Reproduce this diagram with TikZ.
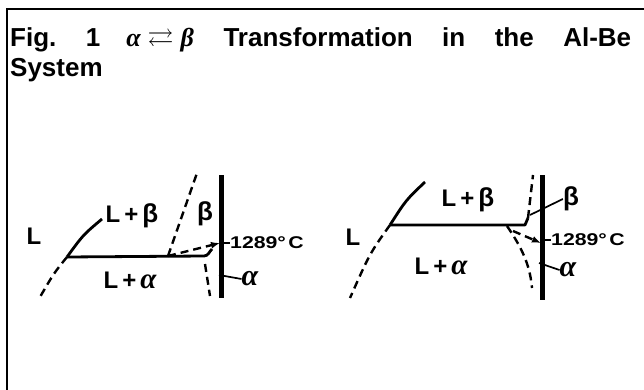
\documentclass[tikz,border=0pt]{standalone}
\usepackage{amsmath, amssymb}
\usepackage{graphicx}
\usepackage{fontspec}
\setmainfont{Liberation Sans}
\newfontfamily\grkserif{Liberation Serif}
\newcommand{\alf}{{\grkserif\bfseries\itshape α}}
\newcommand{\bet}{{\grkserif\bfseries\itshape β}}
\usetikzlibrary{arrows.meta}

\begin{document}
\begin{tikzpicture}[x=1pt, y=-1pt, >=Latex,
  phase/.style={line width=2.8pt},
  solvus/.style={line width=2.4pt, dash pattern=on 8pt off 5pt},
  pure/.style={line width=5pt},
  lbl/.style={font=\bfseries\fontsize{24}{26}\selectfont, inner sep=0pt},
  temp/.style={font=\bfseries\fontsize{17}{19}\selectfont, inner sep=0pt, anchor=west},
  grk/.style={font=\bfseries\fontsize{26}{28}\selectfont, inner sep=0pt},
  alfa/.style={font=\fontsize{30}{32}\selectfont, inner sep=0pt},
  lead/.style={line width=1.7pt}]
  \useasboundingbox (0,0) rectangle (644,390);

  % frame and title
  \coordinate (fTL) at (7,9);
  \coordinate (fTR) at (644,9);
  \coordinate (fBL) at (7,390);
  \draw[line width=2pt] (fBL) -- (fTL) -- (fTR);
  \node[anchor=base west, inner sep=0pt, font=\bfseries\fontsize{26}{30}\selectfont] (title1) at (10,47)
    {\makebox[621pt][s]{Fig.\ 1\quad\mbox{\alf\hspace{7pt}$\rightleftarrows$\hspace{7pt}\bet} Transformation in the Al-Be}};
  \node[anchor=base west, inner sep=0pt, font=\bfseries\fontsize{26}{30}\selectfont] (title2) at (10,77) {System};

  % left diagram: points
  \coordinate (lT) at (67,257);
  \coordinate (lLtop) at (102,219);
  \coordinate (lLbot) at (40,297);
  \coordinate (lE) at (168,256);
  \coordinate (lHend) at (204,256);
  \coordinate (lHup) at (212,249);
  \coordinate (lBtop) at (197,173);
  \coordinate (lArr) at (220,243);
  \coordinate (lAtop) at (205,264);
  \coordinate (lAbot) at (210,296);
  \coordinate (lVtop) at (221,175);
  \coordinate (lVbot) at (221,298);

  % left diagram: boundaries
  \draw[pure] (lVtop) -- (lVbot);
  \draw[phase] (lT) .. controls (83,235) .. (lLtop);
  \draw[solvus] (lT) .. controls (54,273) .. (lLbot);
  \draw[phase, line join=round] (lT) -- (lHend) to[out=0, in=225] (lHup);
  \draw[solvus] (lE) -- (lBtop);
  \draw[solvus, -{Latex[length=9pt, width=7pt]}] (lE) -- (lArr);
  \draw[solvus] (lAtop) -- (lAbot);

  % left diagram: labels
  \node[lbl] (lL) at (34,236) {L};
  \node[lbl] (lLB) at (132,216) {L\,+\,\fontsize{26}{28}\selectfont β};
  \node[grk] (lB) at (205,214) {β};
  \node[lbl] (lLA) at (130,280) {L\,+\,\fontsize{29}{30}\selectfont\alf};
  \node[temp] (lTemp) at (230,243) {\scalebox{1.25}[1]{1289°\hspace{2pt}C}};
  \coordinate (lTick) at (221,243);
  \draw[lead] (lTick) -- (lTemp.west);
  \node[alfa] (lA) at (250,279) {\alf};
  \coordinate (lAlead) at (219,275);
  \draw[lead] (lAlead) -- (lA.west);

  % right diagram: points
  \coordinate (rT) at (390,225);
  \coordinate (rLtop) at (425,182);
  \coordinate (rLbot) at (350,298);
  \coordinate (rHend) at (525,225);
  \coordinate (rBbot) at (528,218);
  \coordinate (rBtop) at (533,175);
  \coordinate (rAtop) at (507,226);
  \coordinate (rAbot) at (532,288);
  \coordinate (rA0) at (513,231);
  \coordinate (rArr) at (541,243);
  \coordinate (rVtop) at (542,175);
  \coordinate (rVbot) at (542,300);

  % right diagram: boundaries
  \draw[pure] (rVtop) -- (rVbot);
  \draw[phase] (rT) .. controls (406,200) .. (rLtop);
  \draw[solvus] (rT) .. controls (370,253) .. (rLbot);
  \draw[phase, line join=round] (rT) -- (rHend) -- (rBbot);
  \draw[solvus] (rBbot) -- (rBtop);
  \draw[solvus] (rAtop) .. controls (522,248) and (530,265) .. (rAbot);
  \draw[solvus, -{Latex[length=9pt, width=7pt]}] (rA0) -- (rArr);

  % right diagram: labels
  \node[lbl] (rL) at (353,237) {L};
  \node[lbl] (rLB) at (468,200) {L\,+\,\fontsize{26}{28}\selectfont β};
  \node[lbl] (rLA) at (441,266) {L\,+\,\fontsize{29}{30}\selectfont\alf};
  \node[grk] (rB) at (571,199) {β};
  \coordinate (rBlead) at (530,215);
  \draw[lead] (rBlead) -- (rB.west);
  \node[temp] (rTemp) at (551,240) {\scalebox{1.25}[1]{1289°\hspace{2pt}C}};
  \coordinate (rTick) at (542,240);
  \draw[lead] (rTick) -- (rTemp.west);
  \node[alfa] (rA) at (568,270) {\alf};
  \coordinate (rAlead) at (539,263);
  \draw[lead] (rAlead) -- (rA.west);

\end{tikzpicture}
\end{document}
